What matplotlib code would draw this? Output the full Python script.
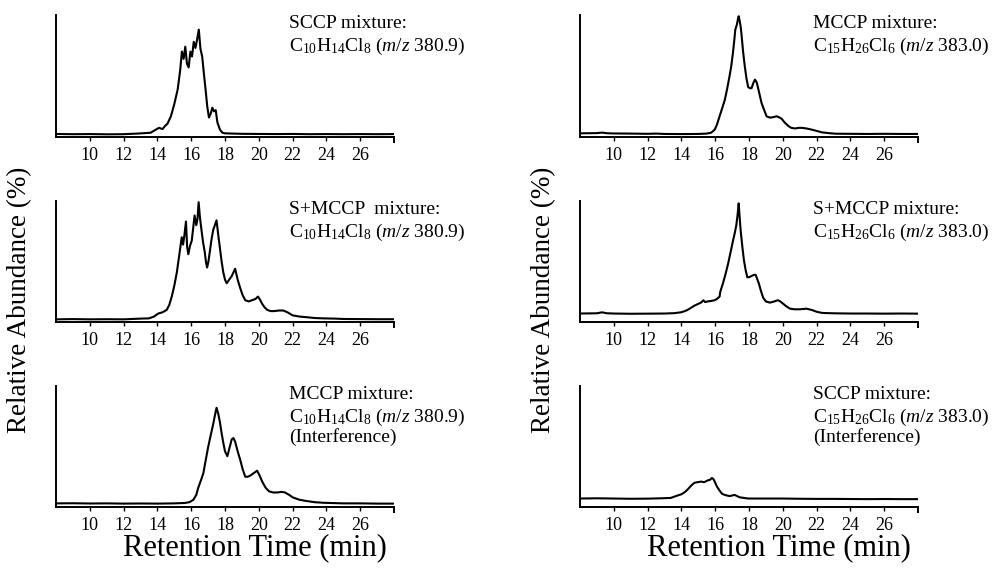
import matplotlib
matplotlib.use("Agg")
import matplotlib.pyplot as plt

SCCP_C10 = [(8.0, 2.5), (9.0, 2.3), (10.0, 2.4), (11.0, 2.2), (12.0, 2.3), (12.8, 2.8),
            (13.3, 3.2), (13.6, 3.5), (13.9, 6.0), (14.1, 7.5), (14.3, 6.5), (14.45, 9.0),
            (14.6, 11), (14.8, 17), (15.0, 27), (15.2, 39), (15.35, 55), (15.45, 70),
            (15.55, 64), (15.65, 74), (15.75, 60), (15.85, 57), (15.95, 70), (16.05, 66),
            (16.15, 78), (16.25, 73), (16.35, 80), (16.45, 88), (16.55, 72), (16.65, 66),
            (16.75, 52), (16.85, 39), (16.95, 25), (17.05, 16), (17.15, 19), (17.25, 24),
            (17.35, 21), (17.45, 22), (17.55, 12), (17.7, 6), (17.85, 3.5), (18.0, 3.0),
            (19, 2.6), (20, 2.5), (21, 2.4), (22, 2.5), (23, 2.3), (24, 2.4), (25, 2.3),
            (26, 2.4), (27, 2.3), (28, 2.4)]

SMCCP_C10 = [(8.0, 2.2), (9.0, 2.4), (10, 2.2), (11, 2.3), (12, 2.2), (13, 2.8), (13.5, 3.0),
             (13.8, 4.5), (14.05, 7), (14.3, 8), (14.55, 10), (14.7, 14), (14.85, 21), (15.0, 30),
             (15.15, 41), (15.3, 56), (15.44, 70), (15.52, 64), (15.6, 72), (15.69, 83),
             (15.76, 62), (15.83, 56), (15.93, 63), (16.03, 67), (16.12, 78), (16.2, 88),
             (16.3, 80), (16.37, 85), (16.44, 99), (16.52, 86), (16.6, 77), (16.7, 66),
             (16.8, 58), (16.87, 50), (16.94, 45), (17.02, 50), (17.1, 58), (17.2, 68),
             (17.3, 76), (17.4, 80), (17.5, 84), (17.6, 72), (17.7, 61), (17.8, 50), (17.9, 41),
             (18.0, 35), (18.1, 32), (18.25, 35), (18.4, 38), (18.5, 41), (18.6, 44),
             (18.75, 35), (18.9, 28), (19.05, 22), (19.2, 18), (19.4, 17), (19.6, 18),
             (19.8, 19), (19.95, 21), (20.05, 19), (20.2, 15), (20.35, 12), (20.5, 10),
             (20.7, 9), (20.9, 9), (21.2, 9.5), (21.45, 9.5), (21.7, 8), (22.0, 5.5),
             (22.4, 4.5), (22.8, 4), (23.3, 3.3), (23.8, 3), (24.5, 2.8), (25, 2.5), (26, 2.4),
             (27, 2.3), (28, 2.3)]

MCCP_C10 = [(8, 3), (9, 3.1), (10, 2.9), (11, 3), (12, 2.8), (13, 2.9), (14, 2.8), (15, 3),
            (15.6, 3.3), (15.9, 4), (16.13, 6), (16.3, 10), (16.42, 16), (16.6, 23),
            (16.72, 28), (16.85, 38), (17.01, 50), (17.15, 59), (17.31, 69), (17.42, 77),
            (17.5, 82), (17.6, 77), (17.7, 70), (17.8, 61), (17.9, 53), (18.0, 46),
            (18.14, 42), (18.25, 48), (18.4, 56), (18.5, 57), (18.6, 54), (18.75, 46),
            (18.9, 39), (19.05, 31), (19.2, 25), (19.35, 25), (19.5, 26), (19.7, 28),
            (19.9, 30), (20.05, 26), (20.2, 21), (20.4, 16), (20.6, 13), (20.85, 12),
            (21.1, 12), (21.35, 12.5), (21.55, 12), (21.8, 10), (22.0, 8), (22.4, 6),
            (22.8, 5), (23.3, 4), (23.8, 3.5), (24.5, 3.2), (25, 3), (26, 3), (27, 2.8),
            (28, 2.8)]

MCCP_C15 = [(8, 3), (9, 3.2), (9.3, 3.6), (9.6, 3.1), (10, 2.9), (11, 2.8), (12, 2.6),
            (12.5, 2.8), (13, 2.5), (14, 2.4), (15, 2.5), (15.5, 2.8), (15.76, 3.5),
            (15.97, 6), (16.1, 10), (16.26, 17), (16.4, 23), (16.56, 30), (16.7, 39),
            (16.85, 50), (16.95, 58), (17.05, 69), (17.12, 78), (17.19, 88), (17.28, 92),
            (17.35, 97), (17.39, 99), (17.45, 95), (17.5, 91), (17.55, 85), (17.65, 70),
            (17.75, 58), (17.85, 48), (17.95, 41), (18.05, 40), (18.15, 40), (18.25, 44),
            (18.35, 47), (18.45, 45), (18.54, 40), (18.64, 34), (18.74, 28), (18.9, 22),
            (19.04, 17), (19.2, 16), (19.34, 16), (19.5, 16.5), (19.64, 17), (19.8, 16),
            (19.93, 15), (20.1, 12), (20.33, 9), (20.5, 7.5), (20.73, 7), (20.95, 7.5),
            (21.13, 7.5), (21.4, 7), (21.73, 6), (22.0, 5), (22.32, 3.8), (22.7, 3.2),
            (23.12, 2.7), (24, 2.6), (25, 2.5), (26, 2.6), (27, 2.5), (28, 2.5)]

SMCCP_C15 = [(8, 7), (9, 7.2), (9.3, 8), (9.6, 7.2), (10, 7), (11, 6.8), (12, 6.9), (13, 7),
             (13.57, 7.3), (13.97, 8), (14.2, 9), (14.37, 10), (14.6, 12), (14.77, 13.5),
             (15.0, 15), (15.16, 16), (15.3, 18), (15.4, 16.5), (15.56, 17), (15.8, 17.5),
             (15.97, 18), (16.1, 19), (16.26, 21), (16.3, 25), (16.46, 32), (16.6, 39),
             (16.76, 48), (16.9, 57), (17.05, 67), (17.15, 73), (17.25, 80), (17.32, 88),
             (17.39, 98), (17.45, 86), (17.51, 75), (17.6, 63), (17.7, 51), (17.8, 43),
             (17.9, 37), (18.0, 37), (18.15, 38), (18.3, 39), (18.39, 39), (18.5, 35),
             (18.58, 32), (18.7, 26), (18.84, 20), (19.0, 17), (19.24, 16), (19.5, 17),
             (19.7, 18), (19.85, 17), (20.03, 15), (20.2, 13), (20.43, 11), (20.7, 10.5),
             (21.0, 10.5), (21.4, 11), (21.7, 10), (22.0, 8.5), (22.32, 7.5), (23, 7.2),
             (24, 7), (25, 7), (26, 6.9), (27, 7), (28, 6.9)]

SCCP_C15 = [(8, 7), (9, 7.2), (10, 7), (11, 6.8), (12, 6.9), (12.8, 7.2), (13.37, 7.5),
            (13.77, 9.5), (14.0, 10.5), (14.17, 12), (14.3, 13.5), (14.47, 16), (14.6, 18),
            (14.77, 20), (14.95, 20.5), (15.16, 21), (15.35, 20.5), (15.56, 22), (15.7, 22.5),
            (15.8, 24), (15.9, 23), (15.97, 21), (16.1, 17), (16.26, 13.5), (16.4, 11),
            (16.56, 10), (16.7, 9.5), (16.85, 9), (17.0, 9.5), (17.15, 10), (17.3, 9),
            (17.45, 8), (17.7, 7.5), (17.95, 7), (19, 7), (20, 7), (21, 6.8), (22, 6.7),
            (23, 6.7), (24, 6.6), (25, 6.5), (26, 6.6), (27, 6.5), (28, 6.5)]

FORMULA_C10 = r"C$_{10}$H$_{14}$Cl$_{8}$ ($m/z$ 380.9)"
FORMULA_C15 = r"C$_{15}$H$_{26}$Cl$_{6}$ ($m/z$ 383.0)"

PANELS = [
    # (fila, columna, datos, lineas de texto)
    (0, 0, SCCP_C10, ["SCCP mixture:", FORMULA_C10]),
    (1, 0, SMCCP_C10, ["S+MCCP  mixture:", FORMULA_C10]),
    (2, 0, MCCP_C10, ["MCCP mixture:", FORMULA_C10, "(Interference)"]),
    (0, 1, MCCP_C15, ["MCCP mixture:", FORMULA_C15]),
    (1, 1, SMCCP_C15, ["S+MCCP mixture:", FORMULA_C15]),
    (2, 1, SCCP_C15, ["SCCP mixture:", FORMULA_C15, "(Interference)"]),
]

XTICKS = [10, 12, 14, 16, 18, 20, 22, 24, 26]

# --- Estilo ---
plt.rcParams["font.family"] = "Liberation Serif"
plt.rcParams["mathtext.fontset"] = "custom"
plt.rcParams["mathtext.rm"] = "Liberation Serif"
plt.rcParams["mathtext.it"] = "Liberation Serif:italic"

W, H = 994, 572
fig = plt.figure(figsize=(W / 100, H / 100), dpi=100)

# posiciones en pixeles (izquierda, derecha) y (arriba, abajo)
COL_X = [(56, 394), (580, 918)]
ROW_Y = [(15, 137), (201, 322), (386, 507)]

for fila, col, datos, lineas in PANELS:
    x0, x1 = COL_X[col]
    top, bot = ROW_Y[fila]
    ax = fig.add_axes([x0 / W, 1 - bot / H, (x1 - x0) / W, (bot - top) / H])
    t = [p[0] for p in datos]
    v = [p[1] for p in datos]
    ax.plot(t, v, color="black", linewidth=1.5)
    ax.set_xlim(8, 28)
    ax.set_ylim(0, 100)
    ax.spines["top"].set_visible(False)
    ax.spines["right"].set_visible(False)
    ax.spines["left"].set_linewidth(1.4)
    ax.spines["bottom"].set_linewidth(1.4)
    ax.set_yticks([])
    ax.set_xticks(XTICKS)
    ax.set_xticks([28], minor=True)
    ax.tick_params(axis="x", which="major", direction="out", length=3, width=1,
                   labelsize=13, pad=4)
    ax.tick_params(axis="x", which="minor", direction="out", length=4, width=1.4)
    for i, linea in enumerate(lineas):
        ax.annotate(linea, xy=(0.69, 1.0), xycoords="axes fraction",
                    xytext=(0, -15 * i), textcoords="offset points",
                    ha="left", va="top", fontsize=14)

# etiquetas de los ejes
for col in range(2):
    x0, x1 = COL_X[col]
    fig.text((x0 - 36) / W, 1 - 300 / H, "Relative Abundance (%)", rotation=90,
             ha="center", va="center", fontsize=19.5)
    fig.text((x0 + x1) / 2 / W + 30 / W, 1 - 548 / H, "Retention Time (min)",
             ha="center", va="center", fontsize=22)

fig.savefig("out.png", dpi=100)
